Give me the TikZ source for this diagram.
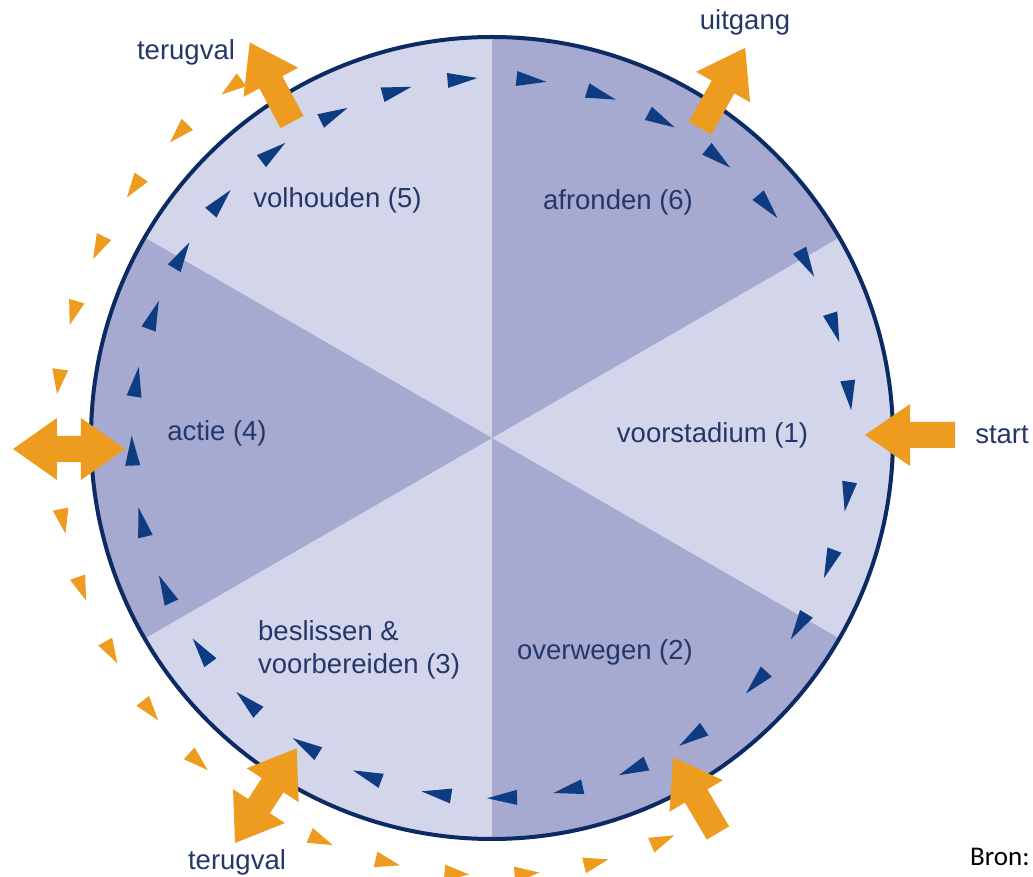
\documentclass[tikz,border=0pt]{standalone}
\usepackage{fontspec}
\setmainfont{Liberation Sans}
\newfontfamily\bronfont{Carlito}
\usepackage{xcolor}
\usepackage{tikz}

\definecolor{navyline}{RGB}{12,42,100}
\definecolor{stagetext}{RGB}{37,55,105}
\definecolor{bluetri}{RGB}{13,60,130}
\definecolor{orangearr}{RGB}{238,156,32}
\definecolor{sectordark}{RGB}{166,169,208}
\definecolor{sectorlight}{RGB}{211,213,235}

\tikzset{
  stage/.style={text=stagetext, font=\fontsize{27.5}{33}\selectfont, inner sep=0pt},
  blueturn/.style={fill=bluetri},
  orangeback/.style={fill=orangearr},
}

% single and double orange arrows
\newcommand{\bigarrow}[3]{%
  \fill[orangearr, shift={#1}, rotate=#2] (0,-13) -- (#3-45,-13) -- (#3-45,-31)
    -- (#3,0) -- (#3-45,31) -- (#3-45,13) -- (0,13) -- cycle;}
\newcommand{\dblarrow}[3]{%
  \fill[orangearr, shift={#1}, rotate=#2] (0,0) -- (44,31) -- (44,13) -- (#3-44,13)
    -- (#3-44,31) -- (#3,0) -- (#3-44,-31) -- (#3-44,-13) -- (44,-13) -- (44,-31) -- cycle;}

\begin{document}
\begin{tikzpicture}[x=1pt,y=1pt]
  \useasboundingbox (-492,-439) rectangle (541,438);
  % sectors
  \fill[sectorlight] (0,0) circle[radius=401];
  \foreach \s in {30,150,270}
    \fill[sectordark] (0,0) -- (\s:401) arc[start angle=\s, end angle=\s+60, radius=401] -- cycle;
  \draw[navyline, line width=4pt] (0,0) circle[radius=401];

  % inner path, clockwise
  \foreach \a in {116,105.3,94.7,83.7,72.3,61.9,51,40,29,17.8,6.8,-9.4,-20.5,-31.6,-42.8,-56.3,
                  -67,-77.8,-88.4,-98.9,-110.3,-121.2,-132.8,-143.8,-155.2,-166.5,-178,-189,-200,-210.5,-221.1,-232.6}
    \fill[blueturn, shift={(\a:360)}, rotate=\a-90] (15,0) -- (-15,7.5) -- (-15,-7.5) -- cycle;

  % relapse path, counterclockwise
  \foreach \a in {126.6,135.8,145,154.2,163.4,172.6,191,200.2,209.4,218.6,227.8,247,256.2,265.4,274.6,283.8,293}
    \fill[orangeback, shift={(\a:437)}, rotate=\a+90] (12.5,0) -- (-12.5,8) -- (-12.5,-8) -- cycle;

  % stages
  \node[stage] (pre) at (220.5,3) {voorstadium (1)};
  \node[stage] (cons) at (113,-214) {overwegen (2)};
  \node[stage, anchor=west, align=left] (prep) at (-234,-212) {beslissen \&\\voorbereiden (3)};
  \node[stage] (act) at (-275,5) {actie (4)};
  \node[stage] (maint) at (-154.5,238) {volhouden (5)};
  \node[stage] (term) at (126,236) {afronden (6)};

  % outside labels
  \node[stage] (relapsetop) at (-306,386) {terugval};
  \node[stage] (exit) at (253,416) {uitgang};
  \node[stage] (startlbl) at (510,3) {start};
  \node[stage] (relapsebot) at (-255,-424) {terugval};
  \node[anchor=west, inner sep=0pt, font=\bronfont\fontsize{27}{32}\selectfont] (source) at (478,-419) {Bron:};

  % arrows
  \bigarrow{(-200,316)}{118}{90}
  \bigarrow{(208,310)}{60.6}{92}
  \bigarrow{(463,3)}{180}{90}
  \bigarrow{(226,-395)}{120.6}{88}
  \dblarrow{(-479,-11)}{0}{112}
  \dblarrow{(-257,-405)}{56.9}{113}
\end{tikzpicture}
\end{document}
